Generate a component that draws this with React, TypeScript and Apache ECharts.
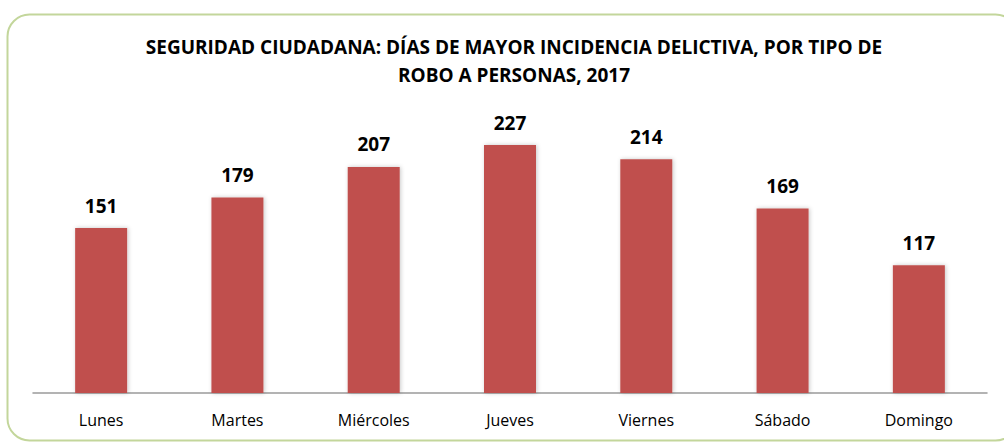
import React, { useEffect, useRef } from "react";
import * as echarts from "echarts";

const titleText = "SEGURIDAD CIUDADANA: DÍAS DE MAYOR INCIDENCIA DELICTIVA, POR TIPO DE\nROBO A PERSONAS, 2017";
const days = ["Lunes", "Martes", "Miércoles", "Jueves", "Viernes", "Sábado", "Domingo"];
const robberies = [151, 179, 207, 227, 214, 169, 117];

export default function App() {
  const ref = useRef<HTMLDivElement>(null);
  useEffect(() => {
    if (!ref.current) return;
    const chart = echarts.init(ref.current, undefined, { renderer: "svg" });
    chart.setOption({
      animation: false,
      backgroundColor: "#ffffff",
      graphic: [
        {
          type: "rect",
          shape: { x: 7.5, y: 14.5, width: 1010, height: 426, r: 22 },
          style: { fill: "none", stroke: "#C3D69B", lineWidth: 2 },
          silent: true,
        },
      ],
      title: {
        text: titleText,
        left: 509,
        textAlign: "center",
        top: 28,
        textStyle: {
          fontFamily: "Open Sans",
          fontSize: 19,
          fontWeight: "bold",
          color: "#000000",
          lineHeight: 28,
        },
      },
      grid: { left: 33, right: 17, top: 120, bottom: 49, containLabel: false },
      xAxis: {
        type: "category",
        data: days,
        axisLine: { lineStyle: { color: "#9a9a9a", width: 1.5 } },
        axisTick: { show: false },
        axisLabel: {
          color: "#000000",
          fontFamily: "Open Sans",
          fontSize: 16,
          margin: 19,
        },
      },
      yAxis: {
        type: "value",
        min: 0,
        max: 250,
        show: false,
        splitLine: { show: false },
      },
      series: [
        {
          type: "bar",
          data: robberies,
          barWidth: 52,
          itemStyle: {
            color: "#C0504D",
            shadowBlur: 4,
            shadowColor: "rgba(0,0,0,0.22)",
            shadowOffsetX: 1,
            shadowOffsetY: 0,
          },
          label: {
            show: true,
            position: "top",
            distance: 13,
            color: "#000000",
            fontFamily: "Open Sans",
            fontWeight: "bold",
            fontSize: 19,
          },
        },
      ],
    });
    return () => chart.dispose();
  }, []);
  return (
    <div
      ref={ref}
      style={{ position: "fixed", left: 0, top: 0, width: 1004, height: 442 }}
    />
  );
}
